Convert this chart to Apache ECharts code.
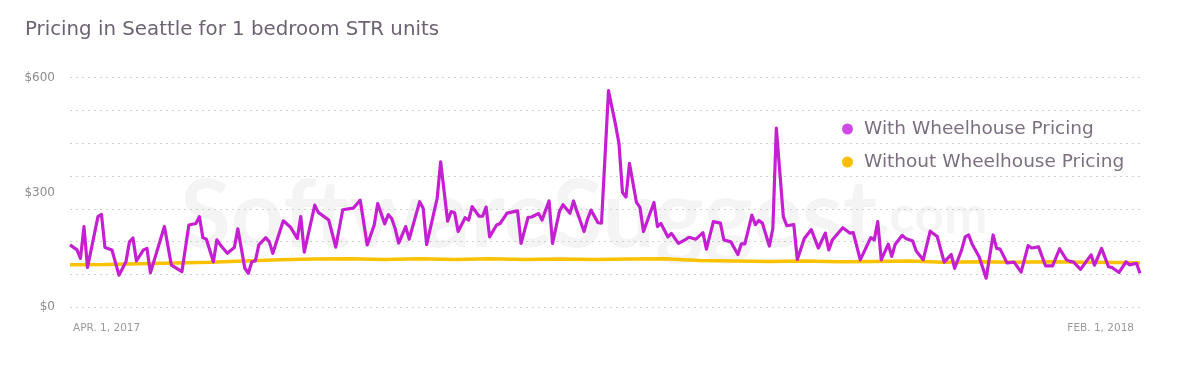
<!DOCTYPE html>
<html>
<head>
<meta charset="utf-8">
<script src="https://cdn.jsdelivr.net/npm/echarts@6/dist/echarts.min.js"></script>
<style>
html,body{margin:0;padding:0;background:#fff;}
#chart{width:1200px;height:380px;}
</style>
</head>
<body>
<div id="chart"></div>
<script>
// Day offsets from Apr 1, 2017 (day 0) to Feb 1, 2018 (day 306)
const xTickLabels = ['APR. 1, 2017', 'FEB. 1, 2018'];
const dayMax = 306;
const yTickValues = [0, 300, 600];

const withDays = [0,2,3,4,5,8,9,10,12,14,16,17,18,19,21,22,23,27,29,32,34,36,37,38,39,41,42,43,45,47,48,50,51,52,53,54,56,57,58,61,63,65,66,67,70,71,74,76,78,80,81,83,85,87,88,90,91,92,93,94,96,97,100,101,102,105,106,108,109,110,111,113,114,115,117,118,119,120,122,123,125,126,128,129,131,132,134,135,137,138,140,141,143,144,145,147,148,149,151,152,154,156,157,158,159,160,162,163,164,167,168,169,171,172,174,176,177,179,181,182,184,186,187,189,191,192,193,195,196,197,198,200,201,202,204,205,207,208,210,212,214,216,217,218,221,223,224,226,229,230,231,232,234,235,236,238,239,241,242,244,246,248,250,252,253,255,256,257,258,260,262,264,265,266,268,270,272,274,275,277,279,281,283,285,286,287,289,292,293,295,297,298,300,302,303,305,306];
const withPrice = [163,150,128,211,104,237,243,156,150,84,119,171,181,121,150,154,90,211,110,93,215,219,237,182,178,119,176,163,141,156,205,102,89,119,121,163,182,171,141,226,210,180,237,144,267,248,228,157,255,258,259,280,163,215,271,218,242,232,205,168,211,178,276,259,164,285,380,225,250,247,198,234,228,263,238,238,262,184,215,219,246,248,252,167,235,236,245,228,278,167,252,268,246,278,250,198,230,254,221,220,566,478,428,300,288,376,274,261,198,274,211,219,184,193,167,177,183,178,195,152,224,220,176,171,138,166,166,241,216,227,220,160,206,468,237,213,216,125,180,203,155,194,150,176,208,194,195,124,182,176,224,124,165,133,165,188,180,173,147,124,199,185,118,138,102,150,184,189,165,132,76,189,154,152,116,118,92,161,155,158,108,108,153,124,120,118,99,137,110,154,106,104,91,119,111,115,89];

const withoutDays = [0,10,20,30,40,50,60,70,80,90,100,110,120,130,140,150,160,170,180,190,200,210,220,230,240,250,260,270,280,290,300,306];
const withoutPrice = [111,112,114,116,118,121,124,126,127,125,127,125,127,125,126,125,126,127,122,121,120,121,119,120,121,118,119,118,119,118,117,116];

const seriesNames = ['With Wheelhouse Pricing', 'Without Wheelhouse Pricing'];
const titleText = 'Pricing in Seattle for 1 bedroom STR units';

const zip = (a, b) => a.map((d, i) => [d, b[i]]);

const chart = echarts.init(document.getElementById('chart'), null, {renderer: 'canvas'});
const FONT = '"DejaVu Sans", sans-serif';

chart.setOption({
  animation: false,
  backgroundColor: '#ffffff',
  title: {
    text: titleText,
    left: 20, top: 15, padding: 5,
    textStyle: {fontFamily: FONT, fontSize: 19.8, fontWeight: 'normal', color: '#6d6272'}
  },
  graphic: [{
    type: 'text', left: 180, top: 170, z: 0, silent: true,
    style: {
      text: '{a|SoftwareSuggest}{b|.com}',
      rich: {
        a: {fontFamily: 'Lato, sans-serif', fontSize: 93, fontWeight: 'bold', fill: 'rgba(0,0,0,0.045)'},
        b: {fontFamily: 'Lato, sans-serif', fontSize: 52, fontWeight: 'bold', fill: 'rgba(0,0,0,0.045)'}
      }
    }
  }],
  legend: {
    orient: 'vertical', left: 837, top: 114,
    icon: 'circle', itemWidth: 11, itemHeight: 11, itemGap: 13,
    textStyle: {fontFamily: FONT, fontSize: 18.5, color: '#7b6f80', lineHeight: 20, padding: [0, 0, 0, 6]},
    data: [
      {name: seriesNames[0], itemStyle: {color: '#d04ae6'}},
      {name: seriesNames[1], itemStyle: {color: '#fbbd00'}}
    ]
  },
  grid: {left: 70, right: 60, top: 77.7, bottom: 72.7, containLabel: false},
  xAxis: {
    type: 'value', min: 0, max: dayMax, interval: dayMax,
    axisLine: {show: false}, axisTick: {show: false}, splitLine: {show: false},
    axisLabel: {
      fontFamily: FONT, fontSize: 10.5, color: '#9a9a9a', margin: 15,
      alignMinLabel: 'left', alignMaxLabel: 'right', padding: [0, 6, 0, 3],
      formatter: v => v === 0 ? xTickLabels[0] : (v === dayMax ? xTickLabels[1] : '')
    }
  },
  yAxis: [{
    type: 'value', min: yTickValues[0], max: yTickValues[2], interval: yTickValues[1],
    axisLine: {show: false}, axisTick: {show: false}, splitLine: {show: false},
    axisLabel: {fontFamily: FONT, fontSize: 12, color: '#8c8c8c', margin: 15, formatter: v => '$' + v}
  }, {
    type: 'value', min: 0, max: 600, interval: 600 / 7, position: 'left',
    axisLine: {show: false}, axisTick: {show: false}, axisLabel: {show: false},
    splitLine: {show: true, lineStyle: {type: [2, 4], color: '#cfcfcf', width: 1}}
  }],
  series: [{
    name: seriesNames[1], type: 'line', data: zip(withoutDays, withoutPrice),
    showSymbol: false, smooth: false, z: 2,
    lineStyle: {color: '#fac200', width: 3.5}, itemStyle: {color: '#fbbd00'}
  }, {
    name: seriesNames[0], type: 'line', data: zip(withDays, withPrice),
    showSymbol: false, smooth: false, z: 3,
    lineStyle: {color: '#c41fd0', width: 3.2, join: 'round'}, itemStyle: {color: '#d04ae6'}
  }]
});
</script>
</body>
</html>
